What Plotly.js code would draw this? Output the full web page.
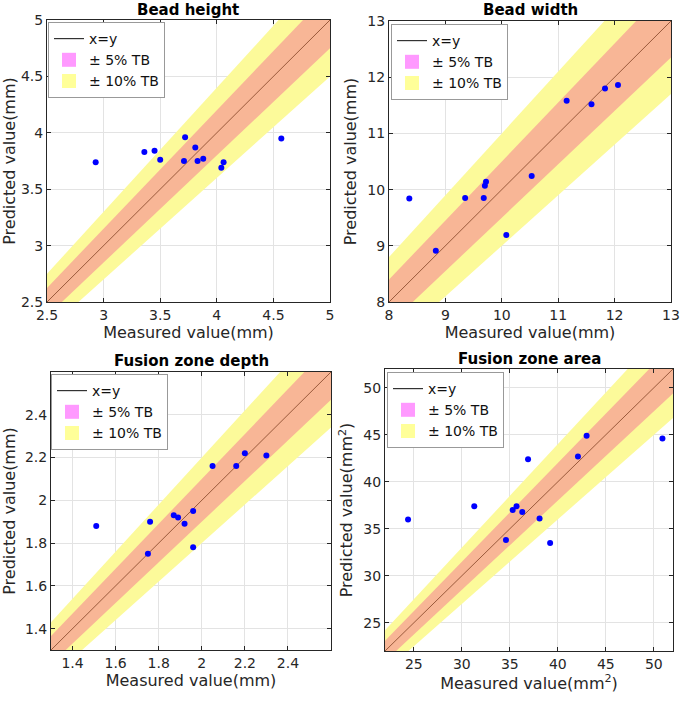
<!DOCTYPE html>
<html>
<head>
<meta charset="utf-8">
<script src="https://cdn.plot.ly/plotly-3.0.1.min.js"></script>
<style>html,body{margin:0;padding:0;background:#fff;}#chart{width:685px;height:701px;}</style>
</head>
<body>
<div id="chart"></div>
<script>
// ---- data ----
const panelTitles = ["Bead height", "Bead width", "Fusion zone depth", "Fusion zone area"];
const xTitles = ["Measured value(mm)", "Measured value(mm)", "Measured value(mm)", "Measured value(mm<sup>2</sup>)"];
const yTitles = ["Predicted value(mm)", "Predicted value(mm)", "Predicted value(mm)", "Predicted value(mm<sup>2</sup>)"];
const legendLabels = ["x=y", "± 5% TB", "± 10% TB"];
const tolerances = [0.05, 0.10];

const bhMeasured  = [2.93, 3.36, 3.45, 3.50, 3.72, 3.71, 3.81, 3.83, 3.88, 4.04, 4.06, 4.57];
const bhPredicted = [3.74, 3.83, 3.84, 3.76, 3.96, 3.75, 3.87, 3.75, 3.77, 3.69, 3.74, 3.95];
const bwMeasured  = [8.36, 8.83, 9.35, 9.68, 9.70, 9.72, 10.08, 10.53, 11.15, 11.59, 11.83, 12.06];
const bwPredicted = [9.84, 8.91, 9.85, 9.85, 10.07, 10.14, 9.19, 10.24, 11.58, 11.52, 11.80, 11.86];
const fdMeasured  = [1.51, 1.76, 1.75, 1.87, 1.89, 1.92, 1.96, 1.96, 2.05, 2.16, 2.20, 2.30];
const fdPredicted = [1.88, 1.90, 1.75, 1.93, 1.92, 1.89, 1.95, 1.78, 2.16, 2.16, 2.22, 2.21];
const faMeasured  = [24.4, 31.3, 34.6, 35.3, 35.7, 36.3, 36.9, 38.1, 39.2, 42.1, 43.0, 50.9];
const faPredicted = [36.0, 37.4, 33.8, 37.0, 37.4, 36.8, 42.4, 36.1, 33.5, 42.7, 44.9, 44.6];

const bhTicks = [2.5, 3, 3.5, 4, 4.5, 5];
const bhTickText = ["2.5", "3", "3.5", "4", "4.5", "5"];
const bwTicks = [8, 9, 10, 11, 12, 13];
const bwTickText = ["8", "9", "10", "11", "12", "13"];
const fdTicks = [1.4, 1.6, 1.8, 2, 2.2, 2.4];
const fdTickText = ["1.4", "1.6", "1.8", "2", "2.2", "2.4"];
const faTicks = [25, 30, 35, 40, 45, 50];
const faTickText = ["25", "30", "35", "40", "45", "50"];

const measured = [bhMeasured, bwMeasured, fdMeasured, faMeasured];
const predicted = [bhPredicted, bwPredicted, fdPredicted, faPredicted];
const ticks = [bhTicks, bwTicks, fdTicks, faTicks];
const tickTexts = [bhTickText, bwTickText, fdTickText, faTickText];
const ranges = [[2.5, 5], [8, 13], [1.3, 2.6], [22, 52]];

// ---- layout geometry (pixels in a 685x701 page) ----
const W = 685, H = 701;
const boxes = [
  {l: 47, r: 330, t: 20, b: 302},
  {l: 389, r: 671, t: 21, b: 302},
  {l: 51, r: 331, t: 372, b: 650},
  {l: 385, r: 673, t: 369, b: 651}
];
const legendPos = [[48, 22], [391, 24], [51, 374], [387, 372]];
const titlePos = [[188, 10], [530, 10], [191, 361], [529, 359]];

const FONT = "DejaVu Sans, Arial, sans-serif";
const DARK = "#262626";
const YELLOW = "#fcfa9a";
const SALMON = "#f8b696";
const PINK = "#ff99ff";
const LINEBROWN = "#9a5a3c";

const traces = [];
const layout = {
  width: W, height: H,
  margin: {l: 0, r: 0, t: 0, b: 0},
  paper_bgcolor: "#ffffff",
  plot_bgcolor: "#ffffff",
  font: {family: FONT, color: DARK},
  showlegend: true,
  annotations: []
};

for (let i = 0; i < 4; i++) {
  const n = i + 1;
  const xa = "x" + (n === 1 ? "" : n);
  const ya = "y" + (n === 1 ? "" : n);
  const lg = "legend" + (n === 1 ? "" : n);
  const x0 = ranges[i][0], x1 = ranges[i][1];

  // bands (widest first)
  const wide = tolerances[1], narrow = tolerances[0];
  traces.push({
    x: [x0, x1, x1, x0, x0],
    y: [(1 - wide) * x0, (1 - wide) * x1, (1 + wide) * x1, (1 + wide) * x0, (1 - wide) * x0],
    xaxis: xa, yaxis: ya, mode: "lines", fill: "toself",
    fillcolor: YELLOW, line: {width: 0}, showlegend: false, hoverinfo: "skip"
  });
  traces.push({
    x: [x0, x1, x1, x0, x0],
    y: [(1 - narrow) * x0, (1 - narrow) * x1, (1 + narrow) * x1, (1 + narrow) * x0, (1 - narrow) * x0],
    xaxis: xa, yaxis: ya, mode: "lines", fill: "toself",
    fillcolor: SALMON, line: {width: 0}, showlegend: false, hoverinfo: "skip"
  });
  // x=y line
  traces.push({
    x: [x0, x1], y: [x0, x1], xaxis: xa, yaxis: ya, mode: "lines",
    line: {color: LINEBROWN, width: 1}, showlegend: false, hoverinfo: "skip"
  });
  // data
  traces.push({
    x: measured[i], y: predicted[i], xaxis: xa, yaxis: ya, mode: "markers",
    marker: {color: "#0000ff", size: 6}, showlegend: false
  });
  // legend entries
  traces.push({
    x: [null], y: [null], xaxis: xa, yaxis: ya, mode: "lines",
    line: {color: "#333333", width: 1.2}, name: legendLabels[0], legend: lg
  });
  traces.push({
    x: [null], y: [null], xaxis: xa, yaxis: ya, mode: "markers",
    marker: {symbol: "square", size: 14, color: PINK, line: {width: 0}},
    name: legendLabels[1], legend: lg
  });
  traces.push({
    x: [null], y: [null], xaxis: xa, yaxis: ya, mode: "markers",
    marker: {symbol: "square", size: 14, color: "#ffff99", line: {width: 0}},
    name: legendLabels[2], legend: lg
  });

  const bx = boxes[i];
  const axCommon = {
    showline: true, mirror: "ticks", linecolor: DARK, linewidth: 1,
    ticks: "inside", ticklen: 4, tickcolor: DARK, tickwidth: 1,
    showgrid: true, gridcolor: "#e3e3e3", gridwidth: 1, zeroline: false,
    tickfont: {family: FONT, size: 14, color: DARK},
    tickmode: "array", tickvals: ticks[i], ticktext: tickTexts[i],
    range: ranges[i].slice(), fixedrange: true
  };
  layout["xaxis" + (n === 1 ? "" : n)] = Object.assign({}, axCommon, {
    domain: [bx.l / W, bx.r / W], anchor: ya,
    title: {text: xTitles[i], font: {family: FONT, size: 16, color: DARK}, standoff: 4}
  });
  layout["yaxis" + (n === 1 ? "" : n)] = Object.assign({}, axCommon, {
    domain: [1 - bx.b / H, 1 - bx.t / H], anchor: xa,
    title: {text: yTitles[i], font: {family: FONT, size: 16, color: DARK}, standoff: 6}
  });
  layout[lg] = {
    x: legendPos[i][0] / W, y: 1 - legendPos[i][1] / H, xanchor: "left", yanchor: "top",
    xref: "paper", yref: "paper",
    bgcolor: "#ffffff", bordercolor: "#999999", borderwidth: 1,
    font: {family: FONT, size: 14, color: "#111111"},
    itemwidth: 30, tracegroupgap: 0
  };
  layout.annotations.push({
    text: "<b>" + panelTitles[i] + "</b>", xref: "paper", yref: "paper",
    x: titlePos[i][0] / W, y: 1 - titlePos[i][1] / H, xanchor: "center", yanchor: "middle",
    showarrow: false, font: {family: FONT, size: 15, color: "#000000"}
  });
}

Plotly.newPlot("chart", traces, layout, {displayModeBar: false, staticPlot: true});
</script>
</body>
</html>
